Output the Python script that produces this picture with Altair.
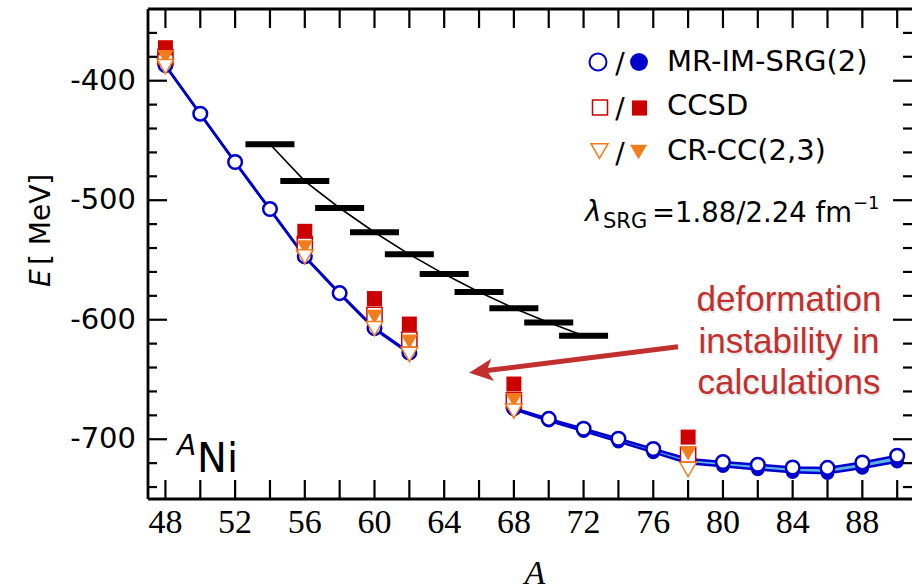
import altair as alt
import pandas as pd

# ---- Ni isotopes: ground-state energies in MeV -------------------------
# MR-IM-SRG(2), lambda = 1.88 (open) and 2.24 fm^-1 (filled)
A_IMSRG = [48, 50, 52, 54, 56, 58, 60, 62,
           68, 70, 72, 74, 76, 78, 80, 82, 84, 86, 88, 90]
BRANCH_IMSRG = ["light"] * 8 + ["heavy"] * 12
E_IMSRG_188 = [-387.0, -427.6, -468.0, -507.4, -547.0, -577.7, -607.0, -627.4,
               -674.0, -683.0, -691.2, -699.6, -708.2, -716.5, -719.0, -721.3,
               -723.6, -724.0, -719.4, -713.8]
E_IMSRG_224 = [-387.5, -428.0, -468.5, -508.0, -547.5, -578.4, -607.8, -628.2,
               -675.0, -684.5, -693.2, -702.0, -711.0, -720.0, -722.5, -725.3,
               -727.6, -728.5, -724.0, -718.8]

# coupled-cluster results
A_CC = [48, 56, 60, 62, 68, 78]
E_CCSD_188 = [-380.3, -536.6, -595.8, -616.7, -667.5, -713.0]
E_CCSD_224 = [-372.4, -526.0, -582.3, -603.6, -653.8, -698.2]
E_CRCC_188 = [-388.3, -547.3, -607.5, -629.0, -676.4, -725.3]
E_CRCC_224 = [-380.3, -539.5, -597.5, -618.4, -667.2, -711.9]

# experiment
A_EXP = [54, 56, 58, 60, 62, 64, 66, 68, 70, 72]
E_EXP = [-453.2, -484.0, -506.5, -526.8, -545.3, -561.8, -576.8, -590.4, -602.3, -613.5]

# axis ticks and tick labels
X_TICKS = list(range(48, 91, 2))
X_LABELS = list(range(48, 89, 4))
Y_MAJOR = [-700, -600, -500, -400]
Y_MINOR = [v for v in range(-740, -340, 20) if v not in Y_MAJOR]

# ---- styling ---------------------------------------------------------------
W, H = 764, 490
LEFT, TOP = 148, 9
BLUE = "#0000cc"
BAND = "#5ab4e5"
RED = "#cc0000"
ORANGE = "#f07c1c"
NOTE_RED = "#c2302e"
FONT = "DejaVu Sans"
NARROW = "Liberation Sans Narrow"

xs = alt.Scale(domain=[47, 90.85], nice=False, zero=False)
ys = alt.Scale(domain=[-750, -340], nice=False, zero=False)


def X(field):
    return alt.X(f"{field}:Q", scale=xs, axis=None)


def Y(field):
    return alt.Y(f"{field}:Q", scale=ys, axis=None)


im = pd.DataFrame({"A": A_IMSRG, "E1": E_IMSRG_188, "E2": E_IMSRG_224,
                   "branch": BRANCH_IMSRG})
cc = pd.DataFrame({"A": A_CC, "sd1": E_CCSD_188, "sd2": E_CCSD_224,
                   "cr1": E_CRCC_188, "cr2": E_CRCC_224})
exp = pd.DataFrame({"A": A_EXP, "E": E_EXP})
one = pd.DataFrame({"k": [0]})

# ---- MR-IM-SRG band, lines and circles --------------------------------------
band = alt.Chart(im).mark_area(color=BAND, opacity=1).encode(
    x=X("A"), y=Y("E1"), y2="E2:Q", detail="branch:N")
line_188 = alt.Chart(im).mark_line(color=BLUE, strokeWidth=2.5).encode(
    x=X("A"), y=Y("E1"), detail="branch:N")
line_224 = alt.Chart(im).mark_line(color=BLUE, strokeWidth=2.5).encode(
    x=X("A"), y=Y("E2"), detail="branch:N")
dots_224 = alt.Chart(im).mark_point(shape="circle", filled=True, color=BLUE,
                                    size=185, opacity=1).encode(x=X("A"), y=Y("E2"))
dots_188 = alt.Chart(im).mark_point(shape="circle", filled=True, fill="white",
                                    stroke=BLUE, strokeWidth=2.5, size=185,
                                    opacity=1).encode(x=X("A"), y=Y("E1"))

# ---- experiment --------------------------------------------------------------
exp_line = alt.Chart(exp).mark_line(color="black", strokeWidth=1.6).encode(
    x=X("A"), y=Y("E"))
exp_bars = alt.Chart(exp).mark_tick(orient="horizontal", size=49, thickness=6,
                                    color="black", opacity=1).encode(x=X("A"), y=Y("E"))

# ---- coupled cluster ---------------------------------------------------------
sq_188 = alt.Chart(cc).mark_point(shape="square", filled=True, fill="white",
                                  stroke=RED, strokeWidth=1.5, size=230,
                                  opacity=1).encode(x=X("A"), y=Y("sd1"))
sq_224 = alt.Chart(cc).mark_point(shape="square", filled=True, color=RED,
                                  size=225, opacity=1).encode(x=X("A"), y=Y("sd2"))
tri_224 = alt.Chart(cc).mark_point(shape="triangle-down", filled=True, color=ORANGE,
                                   size=270, opacity=1).encode(x=X("A"), y=Y("cr2"))
tri_188 = alt.Chart(cc).mark_point(shape="triangle-down", filled=True, fill="white",
                                   stroke=ORANGE, strokeWidth=1.5, size=270,
                                   opacity=1).encode(x=X("A"), y=Y("cr1"))

# ---- frame, inward ticks and tick labels -------------------------------------
xt = pd.DataFrame({"A": X_TICKS})
xl = pd.DataFrame({"A": X_LABELS, "label": [str(v) for v in X_LABELS]})
ymaj = pd.DataFrame({"E": Y_MAJOR, "label": [str(v) for v in Y_MAJOR]})
ymin = pd.DataFrame({"E": Y_MINOR})
TW = 2.2
ticks = [
    alt.Chart(xt).mark_rule(color="black", strokeWidth=TW).encode(
        x=X("A"), y=alt.value(H), y2=alt.value(H - 19)),
    alt.Chart(xt).mark_rule(color="black", strokeWidth=TW).encode(
        x=X("A"), y=alt.value(0), y2=alt.value(19)),
    alt.Chart(ymaj).mark_rule(color="black", strokeWidth=TW).encode(
        y=Y("E"), x=alt.value(0), x2=alt.value(19)),
    alt.Chart(ymin).mark_rule(color="black", strokeWidth=TW).encode(
        y=Y("E"), x=alt.value(0), x2=alt.value(9)),
    alt.Chart(ymaj).mark_rule(color="black", strokeWidth=TW).encode(
        y=Y("E"), x=alt.value(W), x2=alt.value(W - 19)),
    alt.Chart(ymin).mark_rule(color="black", strokeWidth=TW).encode(
        y=Y("E"), x=alt.value(W), x2=alt.value(W - 9)),
]
tick_labels = [
    alt.Chart(xl).mark_text(font=NARROW, fontSize=34, baseline="top",
                            align="center", color="black").encode(
        x=X("A"), y=alt.value(H + 7), text="label:N"),
    alt.Chart(ymaj).mark_text(font=FONT, fontSize=29, baseline="middle",
                              align="right", color="black").encode(
        y=Y("E"), x=alt.value(-12), text="label:N"),
]
frame = [
    alt.Chart(one).mark_rule(color="black", strokeWidth=2.8).encode(
        x=alt.value(0), y=alt.value(0), y2=alt.value(H)),
    alt.Chart(one).mark_rule(color="black", strokeWidth=2.8).encode(
        x=alt.value(0), x2=alt.value(W), y=alt.value(0)),
    alt.Chart(one).mark_rule(color="black", strokeWidth=2.8).encode(
        x=alt.value(0), x2=alt.value(W), y=alt.value(H)),
]


# ---- text helpers (page pixel positions) ------------------------------------
def text(s, x, y, size, font=FONT, style="normal", align="left",
         baseline="alphabetic", color="black", angle=0, **kw):
    return alt.Chart(one).mark_text(
        text=s, font=font, fontSize=size, fontStyle=style, align=align,
        baseline=baseline, color=color, angle=angle, **kw
    ).encode(x=alt.value(x - LEFT), y=alt.value(y - TOP))


def sym(x, y, **kw):
    return alt.Chart(one).mark_point(opacity=1, **kw).encode(
        x=alt.value(x - LEFT), y=alt.value(y - TOP))


labels = [
    text("A", 535, 584, 34, font=NARROW, style="italic", align="center"),
    text("E", 50, 287, 28, style="italic", angle=270),
    text("[ MeV]", 50, 265, 28, angle=270),
    text("A", 177, 455, 28, style="italic"),
    text("Ni", 197, 472, 40),
]

legend = [
    sym(598, 62, shape="circle", filled=True, fill="white", stroke=BLUE,
        strokeWidth=2, size=290),
    text("/", 620, 73, 28, align="center"),
    sym(639, 62, shape="circle", filled=True, color=BLUE, size=320),
    text("MR-IM-SRG(2)", 667, 71, 29),
    sym(600, 107.5, shape="square", filled=True, fill="white", stroke=RED,
        strokeWidth=1.5, size=225),
    text("/", 620, 118, 28, align="center"),
    sym(639.5, 108, shape="square", filled=True, color=RED, size=230),
    text("CCSD", 667, 115, 29),
    sym(599.5, 151, shape="triangle-down", filled=True, fill="white", stroke=ORANGE,
        strokeWidth=1.5, size=290),
    text("/", 620, 163, 28, align="center"),
    sym(638.5, 152, shape="triangle-down", filled=True, color=ORANGE, size=290),
    text("CR-CC(2,3)", 667, 160, 29),
    text("λ", 585, 221, 28, style="italic"),
    text("SRG", 603, 228, 21),
    text("=1.88/2.24 fm", 652, 222, 27.5),
    text("−1", 853, 209, 18),
]

# ---- annotation: arrow and note ---------------------------------------------
NOTE_LINES = ["deformation", "instability in", "calculations"]
NOTE_Y = [311, 353, 394]
note = []
for s, yy in zip(NOTE_LINES, NOTE_Y):
    note.append(text(s, 790, yy + 2, 35, font="Liberation Sans", align="center",
                     color="#000000", opacity=0.10, stroke="#000000",
                     strokeWidth=5, strokeOpacity=0.06))
for s, yy in zip(NOTE_LINES, NOTE_Y):
    note.append(text(s, 789, yy, 35, font="Liberation Sans", align="center",
                     color=NOTE_RED))

arrow_shaft = alt.Chart(one).mark_rule(color=NOTE_RED, strokeWidth=5).encode(
    x=alt.datum(77.42, scale=xs), y=alt.datum(-622.6, scale=ys),
    x2=alt.datum(66.34), y2=alt.datum(-642.7))
arrow_head = alt.Chart(one).mark_point(
    shape="M -1 0 L 1 -0.95 L 0.5 0 L 1 0.95 Z", filled=True, color=NOTE_RED,
    size=560, angle=353, opacity=1
).encode(x=alt.datum(66.11, scale=xs), y=alt.datum(-643.1, scale=ys))

chart = alt.layer(
    band, line_188, line_224, dots_224, dots_188,
    exp_line, exp_bars,
    sq_188, sq_224, tri_224, tri_188,
    *ticks, *frame, *tick_labels, *labels, *legend, *note, arrow_shaft, arrow_head,
).properties(
    width=W, height=H,
    autosize=alt.AutoSizeParams(type="none"),
    padding={"left": LEFT, "top": TOP, "right": 0, "bottom": 585 - TOP - H},
    background="white",
).configure_view(stroke=None)

chart.save("out.html", embed_options={"renderer": "svg", "actions": False})
